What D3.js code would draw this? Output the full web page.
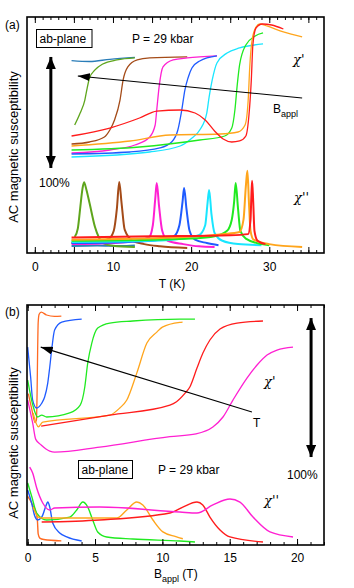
<!DOCTYPE html>
<html lang="en">
<head>
<meta charset="UTF-8">
<title>ac susceptibility</title>
<script src="https://cdn.jsdelivr.net/npm/d3@7"></script>
<style>
    body { margin: 0; background: #fff; }
    svg { font-family: "Liberation Sans", Arial, sans-serif; }
    .axis text { font-size: 12px; fill: black; }
    .chi { font-family: "DejaVu Serif", serif; font-style: italic; }
</style>
</head>
<body>
<script>
const width = 354
const height = 588

// ---------- panel (a): chi vs T, values in % of the 100% arrow ----------
const aLabels = [0, 10, 20, 30]
const aMajor = d3.range(0, 40, 5)
const aMinor = d3.range(0, 37)

// chi' (upper branch)  [T (K), %]
const aTealChi1 = [[4.7, 173.3], [7, 172.5], [9.6, 174.5], [12.8, 176.3]]
const aOliveChi1 = [[5.1, 115.3], [5.8, 126.1], [6.4, 137.8], [6.7, 148.6], [7.0, 157.7], [7.7, 164.9], [8.7, 170.3], [10.5, 173.9], [12.8, 175.7]]
const aBrownChi1 = [[4.7, 98.2], [7.0, 100], [8.9, 104.5], [9.6, 110.8], [10.2, 119.8], [10.9, 137.8], [11.3, 155.9], [11.9, 167.6], [13.1, 173.9], [14.7, 175.7], [19.5, 176.6]]
const aMagentaChi1 = [[4.7, 90.1], [9.6, 92.8], [12.8, 97.3], [14.7, 104.5], [15.4, 115.3], [15.6, 128.8], [15.9, 149.5], [16.4, 167.6], [17.7, 173.9], [19.5, 175.7], [23.3, 177.5]]
const aBlueChi1 = [[4.7, 89.2], [12.2, 91], [16.0, 94.6], [17.5, 100], [18.3, 110.8], [18.8, 128.8], [19.2, 146.8], [19.6, 157.7], [20.1, 166.7], [21.1, 173], [23.3, 177.5]]
const aCyanChi1 = [[4.7, 86.5], [14.7, 91], [18.6, 96.4], [20.0, 103], [21.1, 110.8], [22.0, 126.1], [22.3, 140.5], [22.7, 155.9], [23.3, 171.2], [24.6, 180.2], [26.2, 184.7], [29.2, 188.3]]
const aGreenChi1 = [[4.7, 92.8], [13.4, 95.5], [21.1, 101.8], [24.3, 105.4], [25.2, 112.6], [25.6, 128.8], [25.9, 151.4], [26.2, 169.4], [27.0, 187.4], [28.2, 195.5], [29.2, 198.2]]
const aOrangeChi1 = [[4.7, 96.4], [12.2, 100.9], [17.3, 106.3], [23.7, 107.2], [26.0, 109], [26.9, 115.3], [27.3, 137.8], [27.5, 167.6], [27.8, 191.9], [28.3, 203.6], [28.8, 206.3], [29.7, 204.5], [31.8, 199.1], [34.2, 194.6]]
const aRedChi1 = [[4.7, 105.4], [9.6, 112.6], [13.4, 121.6], [15.6, 127.9], [18.6, 128.8], [20.5, 126.1], [21.8, 119.8], [23.0, 109.9], [24.1, 102.7], [25.2, 100], [26.2, 100.9], [27.0, 105.4], [27.4, 124.3], [27.7, 155.9], [27.9, 187.4], [28.3, 202.7], [29.1, 206.3], [30.3, 205.4], [31.8, 201.8]]

// chi'' (lower branch)  [T (K), %]
const aTealChi2 = [[4.7, 6.3], [8, 6.8], [11, 6.3], [12.8, 6.8]]
const aOliveChi2 = [[5.1, 14.4], [5.5, 22], [5.8, 40], [6.1, 58], [6.3, 63.7], [6.6, 57], [7.0, 45], [7.7, 23.4], [8.2, 14], [8.7, 9], [10, 6.5], [12.8, 5.4]]
const aBrownChi2 = [[4.7, 9], [8, 10], [9.5, 13], [10.1, 20], [10.5, 40], [10.8, 64], [11.1, 45], [11.5, 21], [12.5, 11], [14, 8], [16, 6], [19.5, 4.5]]
const aMagentaChi2 = [[4.7, 8], [10, 9], [13, 11], [14.6, 14], [15.1, 25], [15.4, 48], [15.6, 63], [15.9, 42], [16.3, 20], [17, 11], [19, 8], [21, 6], [23, 5.4]]
const aBlueChi2 = [[4.7, 9], [12, 10], [16, 12], [17.8, 15], [18.5, 25], [18.9, 46], [19.1, 58.6], [19.4, 40], [19.8, 20], [20.5, 12], [22, 9], [23.5, 7]]
const aCyanChi2 = [[4.7, 10], [15, 11], [19, 13], [21, 16], [21.8, 25], [22.1, 45], [22.3, 56.8], [22.6, 35], [23, 18], [24, 11], [26, 8], [29, 7]]
const aGreenChi2 = [[4.7, 11], [15, 12], [20, 13], [23, 15], [24.6, 20], [25.2, 30], [25.5, 46], [25.7, 63], [26.0, 40], [26.3, 20], [27, 13], [29, 8], [30, 7]]
const aOrangeChi2 = [[4.7, 12], [18, 14], [24, 17], [26.2, 19], [26.7, 30], [27.0, 60], [27.2, 74], [27.4, 45], [27.6, 20], [28, 12], [30, 8], [34.2, 5.4]]
const aRedChi2 = [[4.7, 14], [15, 15], [25, 16], [27.3, 17], [27.6, 30], [27.7, 50], [27.8, 65], [27.95, 45], [28.1, 20], [28.5, 11], [29.5, 8]]

// ---------- panel (b): chi vs B_appl ----------
const bLabels = [0, 5, 10, 15, 20]
const bMajor = d3.range(0, 25, 5)
const bMinor = d3.range(0, 23)

// chi'  [B (T), %]
const bOrangeredChi1 = [[0.05, 109], [0.3, 98], [0.55, 88], [0.65, 90], [0.7, 110], [0.74, 140], [0.78, 160], [0.85, 166], [1.0, 167.6], [1.4, 165.5], [2.0, 164.5], [2.5, 164.7]]
const bBlueChi1 = [[0, 142.4], [0.22, 120.9], [0.37, 104.3], [0.67, 98.6], [1.04, 102], [1.26, 106.5], [1.49, 116.5], [1.64, 128.1], [1.78, 140.3], [2.0, 154.7], [2.53, 160.4], [4.01, 162.6]]
const bGreenChi1 = [[0, 118.7], [0.4, 100], [0.74, 92.1], [1.04, 93.5], [1.41, 92.1], [3.12, 95], [3.9, 100.7], [4.24, 113.7], [4.46, 131], [4.76, 145.3], [5.2, 156.1], [6.1, 159.7], [7.8, 161.2], [11.3, 162.6], [12.42, 162.6]]
const bOrangeChi1 = [[0.4, 95], [0.8, 85], [1.12, 88.5], [6.1, 93.5], [6.84, 98.6], [7.36, 104.3], [8.1, 123.7], [8.85, 145.3], [9.59, 153.2], [10.0, 156.8], [11.3, 160.2], [11.5, 160.4]]
const bRedChi1 = [[1.0, 85.6], [6.1, 93.5], [10.56, 100.7], [11.05, 103.1], [11.67, 109.1], [12.04, 113.7], [12.57, 127.3], [13.01, 138.1], [13.53, 147.5], [14.28, 155.4], [15.54, 159.7], [17.47, 161.2]]
const bMagentaChi1 = [[0, 104.3], [0.37, 87.8], [0.6, 76], [1.0, 72], [1.64, 67.6], [2.0, 66.9], [5.35, 70.5], [10.56, 78], [12.5, 80], [13.75, 84.9], [14.5, 92.1], [15.24, 104.3], [16.28, 120.1], [17.03, 129.5], [17.77, 136.7], [18.51, 140.3], [19.7, 142.4]]

// chi''  [B (T), %]
const bOrangeredChi2 = [[0, 35], [0.2, 32], [0.4, 28], [0.6, 24], [0.72, 18], [0.78, 8], [0.9, 5], [1.2, 4], [2.5, 3]]
const bBlueChi2 = [[0, 39.6], [0.3, 30], [0.52, 21], [0.74, 18], [1.04, 20], [1.35, 28], [1.49, 30.9], [1.64, 27.3], [1.86, 15.8], [2.38, 8.6], [2.9, 5.8], [4.01, 2.9]]
const bGreenChi2 = [[0, 44.6], [0.3, 35], [0.67, 23], [1.41, 18], [3.12, 20.1], [3.64, 25.2], [4.09, 30.9], [4.46, 27.3], [4.83, 18], [5.2, 9.4], [5.87, 5.8], [7.8, 4.3], [11.3, 2.9], [12.42, 2.2]]
const bOrangeChi2 = [[0.4, 27.3], [0.8, 20], [1.04, 19.4], [6.62, 19.4], [7.36, 25.2], [8.1, 30.9], [8.55, 28.8], [9.3, 18], [10.04, 9.4], [11.0, 6], [11.52, 4.5]]
const bRedChi2 = [[1.04, 16.5], [5.35, 18], [10.56, 23], [11.52, 27.3], [12.57, 30.9], [13.0, 28.8], [13.53, 20.1], [14.28, 10.8], [15.02, 5.8], [17.47, 2.2]]
const bMagentaChi2 = [[0.15, 56.1], [0.37, 51.8], [0.67, 41], [1.12, 30.2], [1.64, 25.2], [2.0, 26.6], [5.35, 27.3], [11.3, 23.7], [12.57, 23], [13.75, 28.8], [15.02, 33.1], [15.76, 30.9], [16.73, 20.1], [17.99, 9.4], [19.7, 5.8]]

const colors = {
    teal: '#2a7db8', olive: '#5ea51c', brown: '#a44b18', magenta: '#ff20d2',
    blue: '#1f5bff', cyan: '#19e6ff', green: '#20ea20', orange: '#ffa51c',
    red: '#ff1c1c', orangered: '#ff6a22'
}

const aSeries = [
    ['teal', aTealChi1, aTealChi2], ['olive', aOliveChi1, aOliveChi2], ['brown', aBrownChi1, aBrownChi2],
    ['magenta', aMagentaChi1, aMagentaChi2], ['blue', aBlueChi1, aBlueChi2], ['cyan', aCyanChi1, aCyanChi2],
    ['green', aGreenChi1, aGreenChi2], ['orange', aOrangeChi1, aOrangeChi2], ['red', aRedChi1, aRedChi2]
]
const bSeries = [
    ['orangered', bOrangeredChi1, bOrangeredChi2], ['blue', bBlueChi1, bBlueChi2], ['green', bGreenChi1, bGreenChi2],
    ['orange', bOrangeChi1, bOrangeChi2], ['red', bRedChi1, bRedChi2], ['magenta', bMagentaChi1, bMagentaChi2]
]

const svg = d3.select("body").append("svg")
    .attr("width", width)
    .attr("height", height)

const defs = svg.append("defs")
defs.append("marker").attr("id", "thin").attr("viewBox", "0 0 12 8")
    .attr("refX", 12).attr("refY", 4).attr("markerUnits", "userSpaceOnUse")
    .attr("markerWidth", 12).attr("markerHeight", 8).attr("orient", "auto-start-reverse")
    .append("path").attr("d", "M0,0L12,4L0,8Z").attr("fill", "black")
defs.append("marker").attr("id", "fat").attr("viewBox", "0 0 12 10")
    .attr("refX", 12).attr("refY", 5).attr("markerUnits", "userSpaceOnUse")
    .attr("markerWidth", 12).attr("markerHeight", 10).attr("orient", "auto-start-reverse")
    .append("path").attr("d", "M0,0L12,5L0,10Z").attr("fill", "black")

function frame(x, y, labels, major, minor, pad) {
    const [l, r] = x.range()
    const [b, t] = y.range()
    const g = svg.append("g")
    // ticks inside the box, top and bottom
    g.append("g").attr("class", "axis").attr("transform", "translate(0," + b + ")")
        .call(d3.axisBottom(x).tickValues(minor).tickSize(-3).tickFormat(""))
    g.append("g").attr("class", "axis").attr("transform", "translate(0," + b + ")")
        .call(d3.axisBottom(x).tickValues(major).tickSize(-6).tickFormat(""))
    g.append("g").attr("class", "axis").attr("transform", "translate(0," + t + ")")
        .call(d3.axisTop(x).tickValues(minor).tickSize(-3).tickFormat(""))
    g.append("g").attr("class", "axis").attr("transform", "translate(0," + t + ")")
        .call(d3.axisTop(x).tickValues(major).tickSize(-6).tickFormat(""))
    g.append("g").attr("class", "axis").attr("transform", "translate(0," + b + ")")
        .call(d3.axisBottom(x).tickValues(labels).tickSize(0).tickPadding(pad).tickFormat(d3.format("d")))
    g.selectAll(".domain").remove()
    g.selectAll(".tick line").attr("stroke-width", 1)
    g.append("rect").attr("x", l).attr("y", t).attr("width", r - l).attr("height", b - t)
        .attr("fill", "none").attr("stroke", "black").attr("stroke-width", 1.6)
}

function curves(x, y, series, w1, w2) {
    const line = d3.line().x(d => x(d[0])).y(d => y(d[1])).curve(d3.curveMonotoneX)
    const g = svg.append("g").attr("fill", "none")
    series.forEach(function (s) {
        g.append("path").attr("d", line(s[2])).attr("stroke", colors[s[0]]).attr("stroke-width", w2)
    })
    series.forEach(function (s) {
        g.append("path").attr("d", line(s[1])).attr("stroke", colors[s[0]]).attr("stroke-width", w1)
    })
}

function label(x, y, str, size, anchor) {
    return svg.append("text").attr("x", x).attr("y", y).attr("font-size", size)
        .attr("text-anchor", anchor || "start").text(str)
}

// ---------------- panel (a) ----------------
const xA = d3.scaleLinear().domain([-1, 37]).range([27, 324])
const yA = d3.scaleLinear().domain([0, 212.6]).range([253, 17])
curves(xA, yA, aSeries, 1.3, 2)
frame(xA, yA, aLabels, aMajor, aMinor, 9.5)

label(5, 29, "(a)", 12)
svg.append("rect").attr("x", 36.5).attr("y", 29.5).attr("width", 55.5).attr("height", 18)
    .attr("fill", "white").attr("stroke", "black").attr("stroke-width", 1)
label(39.5, 43, "ab-plane", 12)
label(132, 43, "P = 29 kbar", 12)
label(293, 64, "χ'", 13).attr("class", "chi")
label(294, 202, "χ''", 13).attr("class", "chi")
label(39, 186.5, "100%", 12)
label(172, 288, "T (K)", 12, "middle")
const tb = label(273, 113, "B", 12)
tb.append("tspan").attr("font-size", 9).attr("dy", 4).text("appl")
svg.append("line")
    .attr("x1", xA(34.2)).attr("y1", yA(139.6)).attr("x2", xA(5.5)).attr("y2", yA(159.5))
    .attr("stroke", "black").attr("stroke-width", 1.1).attr("marker-end", "url(#thin)")
svg.append("line")
    .attr("x1", xA(2.05)).attr("y1", yA(76.6)).attr("x2", xA(2.05)).attr("y2", yA(176.6))
    .attr("stroke", "black").attr("stroke-width", 3)
    .attr("marker-start", "url(#fat)").attr("marker-end", "url(#fat)")
svg.append("text").attr("transform", "translate(18,147) rotate(-90)")
    .attr("text-anchor", "middle").attr("font-size", 13).text("AC magnetic susceptibility")

// ---------------- panel (b) ----------------
const xB = d3.scaleLinear().domain([-0.05, 22]).range([27, 324])
const yB = d3.scaleLinear().domain([0, 172.7]).range([545, 305])
curves(xB, yB, bSeries, 1.3, 1.4)
frame(xB, yB, bLabels, bMajor, bMinor, 8.2)

label(5, 316, "(b)", 12)
svg.append("rect").attr("x", 78.5).attr("y", 460.5).attr("width", 54).attr("height", 18)
    .attr("fill", "white").attr("stroke", "black").attr("stroke-width", 1)
label(81.5, 474, "ab-plane", 12)
label(158, 474, "P = 29 kbar", 12)
label(264, 386, "χ'", 13).attr("class", "chi")
label(264, 505, "χ''", 13).attr("class", "chi")
label(287, 479, "100%", 12)
label(253, 427, "T", 12)
const bl = label(154, 578, "B", 12)
bl.append("tspan").attr("font-size", 9).attr("dy", 4).text("appl")
bl.append("tspan").attr("dy", -4).text(" (T)")
svg.append("line")
    .attr("x1", xB(16.65)).attr("y1", yB(95.7)).attr("x2", xB(0.97)).attr("y2", yB(142.4))
    .attr("stroke", "black").attr("stroke-width", 1.1).attr("marker-end", "url(#thin)")
svg.append("line")
    .attr("x1", xB(21.04)).attr("y1", yB(63.3)).attr("x2", xB(21.04)).attr("y2", yB(163.3))
    .attr("stroke", "black").attr("stroke-width", 3)
    .attr("marker-start", "url(#fat)").attr("marker-end", "url(#fat)")
svg.append("text").attr("transform", "translate(18,443) rotate(-90)")
    .attr("text-anchor", "middle").attr("font-size", 13).text("AC magnetic susceptibility")
</script>
</body>
</html>
